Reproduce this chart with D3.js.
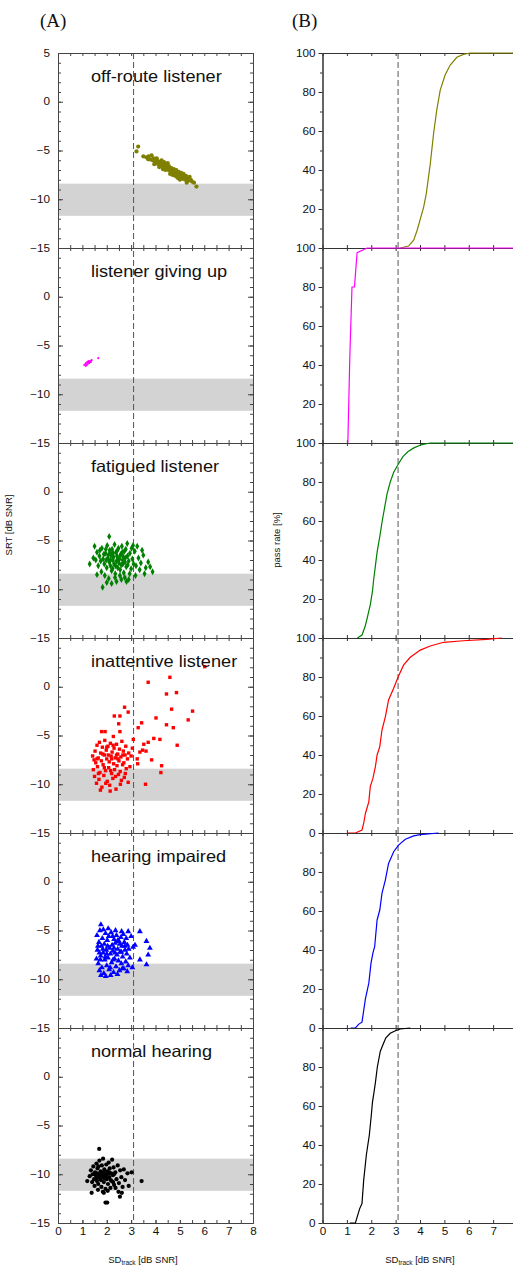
<!DOCTYPE html>
<html lang="en">
<head>
<meta charset="UTF-8">
<title>SRT vs SD track</title>
<style>
  body { margin: 0; background: #fff; }
  text { font-family: Arial, "Liberation Sans", sans-serif; }
</style>
</head>
<body>
<div id="content"></div>
<script src="https://cdn.jsdelivr.net/npm/d3@7"></script>
<script>

// ---- data ----
var panelNames = ["off-route listener", "listener giving up", "fatigued listener",
                  "inattentive listener", "hearing impaired", "normal hearing"];
var panelColors = ["#808000", "#ff00ff", "#008000", "#ff0000", "#0000ff", "#000000"];
var panelShapes = ["circle", "dot", "diamond", "square", "triangle", "circle"];

var srtTicks = [5, 0, -5, -10, -15];
var sdTicksLeft = [0, 1, 2, 3, 4, 5, 6, 7, 8];
var sdTicksRight = [0, 1, 2, 3, 4, 5, 6, 7];
var passTicks = [100, 80, 60, 40, 20, 0];
var criterionSD = 3.1;
var normBand = [-8.4, -11.7];

// [SD_track, SRT]
var offRoutePts = [
  [3.29,-4.6],[3.22,-5.1],[3.5,-5.6],[3.62,-5.7],[3.72,-5.6],[3.78,-5.9],[3.84,-5.5],[3.88,-6.0],
  [3.92,-5.8],[3.98,-6.2],[4.02,-5.9],[4.05,-6.3],[4.1,-6.1],[4.12,-6.4],[4.18,-6.2],[4.2,-6.6],
  [4.25,-6.0],[4.28,-6.4],[4.32,-6.7],[4.35,-6.2],[4.38,-6.5],[4.42,-6.8],[4.45,-6.4],[4.48,-6.7],
  [4.52,-7.0],[4.55,-6.6],[4.58,-6.9],[4.62,-7.2],[4.65,-6.8],[4.68,-7.0],[4.72,-7.3],[4.75,-6.9],
  [4.78,-7.1],[4.82,-7.4],[4.85,-7.0],[4.88,-7.3],[4.92,-7.6],[4.95,-7.2],[4.98,-7.5],[5.02,-7.8],
  [5.05,-7.3],[5.08,-7.6],[5.12,-7.9],[5.15,-7.4],[5.18,-7.7],[5.22,-8.0],[5.25,-7.6],[5.3,-7.9],
  [5.35,-8.1],[5.4,-7.7],[5.45,-8.0],[5.5,-8.2],[5.58,-8.3],[5.68,-8.7],[3.95,-6.4],[4.15,-6.7],
  [4.4,-7.0],[4.6,-7.4],[4.3,-6.9],[4.8,-7.6],[5.0,-8.0],[4.05,-5.8],[4.5,-6.3],[3.7,-5.9],
  [4.9,-7.8],[5.28,-8.3],[4.7,-7.5]
];
var givingUpPts = [
  [1.08,-7.0],[1.12,-6.9],[1.15,-6.8],[1.18,-7.0],[1.2,-6.7],[1.22,-6.9],[1.25,-6.6],[1.28,-6.8],
  [1.3,-6.7],[1.32,-6.6],[1.35,-6.7],[1.38,-6.5],[1.14,-7.1],[1.26,-6.75],[1.65,-6.3]
];
var fatiguedPts = [
  [2.1,-4.6],[1.83,-9.8],[3.88,-8.2],[3.7,-7.2],[3.25,-5.6],[3.02,-5.8],[2.81,-9.2],[2.2,-9.4],[2.4,-9.2],
  [1.6,-6.2],[1.7,-6.6],[1.75,-7.1],[1.8,-5.8],[1.85,-6.9],[1.9,-7.4],[1.95,-6.3],[2.0,-7.8],[2.02,-5.5],
  [2.05,-6.8],[2.1,-7.2],[2.12,-6.0],[2.15,-7.6],[2.18,-6.5],[2.2,-8.1],[2.22,-5.9],[2.25,-7.0],[2.28,-6.7],
  [2.3,-7.4],[2.32,-5.4],[2.35,-8.4],[2.38,-6.2],[2.4,-7.1],[2.42,-6.6],[2.45,-7.8],[2.48,-5.8],[2.5,-7.3],
  [2.52,-6.9],[2.55,-8.0],[2.58,-6.4],[2.6,-7.5],[2.62,-5.6],[2.65,-7.0],[2.68,-6.7],[2.7,-8.3],[2.72,-6.1],
  [2.75,-7.2],[2.78,-5.9],[2.8,-7.7],[2.85,-6.6],[2.9,-7.1],[2.95,-6.3],[3.0,-7.9],[3.05,-6.9],[3.1,-7.4],
  [3.15,-6.1],[3.2,-7.6],[3.3,-6.8],[3.4,-7.3],[3.5,-6.5],[3.6,-7.8],[1.55,-7.0],[1.65,-7.6],[1.72,-6.0],
  [1.78,-8.2],[1.88,-6.4],[1.92,-8.6],[1.98,-7.0],[2.08,-8.9],[2.14,-6.2],[2.24,-7.9],[2.34,-8.8],[2.44,-6.0],
  [2.54,-8.6],[2.64,-6.2],[2.74,-8.8],[2.84,-5.3],[2.94,-8.4],[3.08,-5.5],[3.18,-8.6],[3.35,-8.0],[2.26,-6.3],
  [2.36,-7.6],[2.46,-6.9],[2.56,-6.5],[2.66,-7.4],[2.16,-7.0],[2.06,-6.5],[1.96,-5.9],[2.76,-6.8],[2.86,-7.5],
  [1.3,-7.4],[1.45,-6.8],[1.5,-5.6],[3.45,-6.0],[3.55,-8.4],[3.78,-7.7],[1.6,-8.5],[2.9,-9.0],[2.0,-9.3],[2.6,-9.0]
];
var inattentivePts = [
  [6.02,2.06],[4.59,0.97],[3.70,0.46],[4.45,-0.74],[4.86,-0.6],[4.66,-2.3],[5.52,-2.5],[5.34,-3.4],
  [4.02,-3.2],[4.45,-3.9],[4.73,-4.2],[3.43,-3.7],[3.29,-4.2],[4.18,-5.4],[3.93,-5.3],[3.70,-5.7],
  [3.52,-5.9],[3.47,-6.5],[3.61,-6.6],[4.89,-6.0],[3.84,-7.5],[4.25,-8.1],[4.22,-8.8],[3.59,-10.0],
  [3.27,-7.9],[3.25,-7.4],[3.36,-6.7],[3.09,-5.4],[2.73,-2.1],[2.88,-2.6],[2.31,-3.0],[2.54,-3.0],
  [2.49,-3.8],[1.79,-4.6],[1.93,-4.6],[2.27,-5.1],[2.54,-4.6],
  [1.42,-7.1],[1.45,-8.5],[1.5,-9.2],[1.52,-6.6],[1.55,-7.8],[1.58,-9.9],[1.6,-6.0],[1.62,-8.2],
  [1.65,-7.3],[1.68,-9.5],[1.7,-5.7],[1.72,-8.8],[1.75,-6.8],[1.78,-7.6],[1.8,-10.3],[1.82,-6.2],
  [1.85,-8.0],[1.88,-9.1],[1.9,-7.0],[1.92,-5.5],[1.95,-8.6],[1.98,-6.5],[2.0,-7.4],[2.02,-9.7],
  [2.05,-6.1],[2.08,-8.3],[2.1,-7.7],[2.12,-10.1],[2.15,-5.8],[2.18,-7.1],[2.2,-8.9],[2.22,-6.7],
  [2.25,-9.4],[2.28,-7.9],[2.3,-6.3],[2.32,-8.5],[2.35,-7.3],[2.38,-10.5],[2.4,-5.9],[2.42,-8.1],
  [2.45,-6.9],[2.48,-9.0],[2.5,-7.6],[2.52,-6.4],[2.55,-8.7],[2.58,-7.2],[2.6,-9.6],[2.62,-5.6],
  [2.65,-8.0],[2.68,-6.6],[2.7,-7.8],[2.72,-9.3],[2.75,-7.0],[2.78,-6.1],[2.8,-8.4],[2.85,-7.4],
  [2.88,-9.8],[2.9,-6.8],[2.95,-8.2],[3.0,-7.1],[3.05,-6.3],[1.48,-7.5],[1.66,-8.9],[1.84,-6.9],
  [1.96,-9.9],[2.06,-7.0],[2.16,-8.6],[2.26,-6.0],[2.36,-9.2],[2.46,-7.4],[2.56,-10.0],[2.66,-7.0],
  [2.76,-8.9],[1.74,-10.6],[2.14,-10.7],[1.6,-7.4],[1.9,-8.3],[2.2,-7.4],[2.4,-7.0],[2.0,-6.2]
];
var impairedPts = [
  [1.76,-4.4],[3.36,-5.1],[3.63,-6.1],[3.77,-6.8],[3.70,-7.5],[3.63,-8.5],[3.36,-8.0],[3.16,-6.5],
  [2.88,-5.1],[2.61,-5.1],
  [1.6,-5.5],[1.62,-7.0],[1.65,-8.4],[1.68,-6.2],[1.7,-9.1],[1.72,-5.0],[1.75,-7.6],[1.78,-6.6],
  [1.8,-8.8],[1.82,-5.8],[1.85,-7.3],[1.88,-9.4],[1.9,-6.4],[1.92,-8.0],[1.95,-5.3],[1.98,-7.0],
  [2.0,-8.6],[2.02,-6.0],[2.05,-7.8],[2.08,-5.6],[2.1,-9.0],[2.12,-6.8],[2.15,-7.4],[2.18,-5.2],
  [2.2,-8.3],[2.22,-6.5],[2.25,-7.1],[2.28,-9.3],[2.3,-5.9],[2.32,-7.9],[2.35,-6.3],[2.38,-8.7],
  [2.4,-5.5],[2.42,-7.5],[2.45,-6.9],[2.48,-8.1],[2.5,-6.1],[2.52,-9.1],[2.55,-7.2],[2.58,-5.7],
  [2.6,-8.4],[2.62,-6.6],[2.65,-7.7],[2.68,-5.4],[2.7,-8.9],[2.72,-6.2],[2.75,-7.0],[2.78,-8.2],
  [2.8,-5.8],[2.82,-7.4],[2.85,-6.5],[2.88,-8.6],[2.9,-6.9],[2.95,-7.8],[3.0,-5.6],[3.05,-8.8],
  [3.08,-6.7],[1.64,-6.6],[1.74,-8.0],[1.84,-6.9],[1.94,-7.7],[2.04,-6.6],[2.14,-8.8],[2.24,-5.6],
  [2.34,-7.3],[2.44,-9.5],[2.54,-6.4],[2.64,-8.9],[2.74,-6.6],[2.84,-9.2],[1.58,-7.9],[1.76,-9.6],
  [1.96,-9.7],[2.16,-9.6],[2.36,-5.0],[2.06,-4.8],[1.86,-4.9],[2.26,-8.0],[2.46,-6.0],[1.7,-7.3],
  [2.0,-7.4],[2.3,-6.8],[2.6,-7.2]
];
var normalPts = [
  [1.69,-7.4],[3.43,-10.7],[3.02,-9.8],[1.95,-12.9],[2.02,-12.9],[1.38,-11.9],[2.54,-12.3],[1.2,-10.7],
  [1.3,-10.2],[1.35,-9.6],[1.4,-10.8],[1.45,-9.2],[1.48,-10.5],[1.5,-11.2],[1.52,-9.8],[1.55,-10.1],
  [1.58,-8.9],[1.6,-10.7],[1.62,-9.4],[1.65,-11.0],[1.68,-10.0],[1.7,-8.6],[1.72,-10.4],[1.75,-9.7],
  [1.78,-11.3],[1.8,-9.1],[1.82,-10.2],[1.85,-8.4],[1.88,-10.8],[1.9,-9.5],[1.92,-10.0],[1.95,-11.5],
  [1.98,-9.0],[2.0,-10.5],[2.02,-9.7],[2.05,-11.0],[2.08,-8.8],[2.1,-10.3],[2.12,-9.4],[2.15,-11.4],
  [2.18,-9.9],[2.2,-10.7],[2.22,-8.5],[2.25,-10.1],[2.28,-9.3],[2.3,-11.1],[2.35,-9.8],[2.4,-10.5],
  [2.45,-9.1],[2.5,-10.9],[2.55,-9.6],[2.6,-10.3],[2.65,-11.3],[2.7,-9.5],[2.75,-10.6],[2.85,-9.9],
  [2.9,-11.2],[1.42,-10.0],[1.57,-10.4],[1.66,-9.2],[1.76,-10.6],[1.86,-9.8],[1.96,-10.2],[2.06,-9.9],
  [2.16,-10.6],[2.26,-10.8],[2.36,-11.4],[1.64,-11.6],[1.84,-11.8],[2.04,-11.7],[1.5,-10.0],[1.7,-10.2],
  [1.9,-10.4],[2.1,-9.8],[1.8,-10.0],[2.0,-10.0],[1.6,-9.9],[2.3,-10.0],[2.48,-11.8],[2.62,-11.9],[1.88,-11.9]
];

// pass rate curves [SD_track, %]
var offRouteCurve = [[3.19,0],[3.53,1],[3.74,4],[3.88,9],[4.15,21],[4.26,28],[4.42,43],[4.56,59],
  [4.69,71],[4.83,81],[5.03,88.7],[5.24,93.8],[5.51,97.8],[5.78,99.3],[6.06,100],[7.9,100]];
var givingUpCurve = [[1.04,0],[1.12,44],[1.21,80],[1.31,80],[1.42,97.6],[1.66,99],[1.83,100],[7.9,100]];
var fatiguedCurve = [[1.43,0],[1.62,1.5],[1.75,6],[1.83,10],[1.96,17],[2.05,24],[2.1,30],[2.17,37],
  [2.24,44],[2.35,52],[2.45,60],[2.55,67],[2.65,74],[2.78,80],[2.92,85],[3.1,89],[3.3,93],[3.5,95.5],
  [3.75,97.5],[4.08,99.2],[4.42,100],[7.9,100]];
var inattentiveCurve = [[1.01,0],[1.35,0],[1.62,1.5],[1.69,5],[1.76,10],[1.9,16],[1.96,23.8],[2.07,28.1],
  [2.17,34],[2.24,40],[2.35,44.3],[2.44,52.8],[2.58,59.7],[2.71,68.2],[2.92,74.2],[3.12,80.5],[3.33,86.2],
  [3.6,90.1],[4.01,93.8],[4.42,95.9],[4.97,97.8],[5.78,98.6],[6.74,99.3],[7.36,100]];
var impairedCurve = [[1.15,0],[1.35,0],[1.49,2],[1.62,3],[1.76,14.9],[1.9,23],[1.99,33.3],[2.07,38.5],
  [2.14,41.7],[2.24,55.4],[2.35,60.5],[2.44,69],[2.58,76],[2.71,84.4],[2.92,90.4],[3.12,93.8],[3.4,96.8],
  [3.74,98.5],[4.01,99.2],[4.76,100]];
var normalCurve = [[1.12,0],[1.35,0],[1.42,3],[1.53,7.5],[1.62,10],[1.69,22],[1.8,35],[1.92,45],[2.0,55],
  [2.05,62],[2.1,66],[2.17,72],[2.25,80],[2.37,88],[2.5,92],[2.6,95],[2.78,97.3],[2.99,98.6],[3.19,99.5],[3.6,100]];

var scatterData = [offRoutePts, givingUpPts, fatiguedPts, inattentivePts, impairedPts, normalPts];
var curveData = [offRouteCurve, givingUpCurve, fatiguedCurve, inattentiveCurve, impairedCurve, normalCurve];

// ---- layout ----
var width = 513, height = 1267;
var top0 = 53, panelH = 195, nPanels = 6;
var axisColor = "#444";
var textColor = "#111";
var stretchTicks = 1.17;   // figure text is slightly wide
var stretchTitles = 1.1;

var svg = d3.select("#content").append("svg")
    .attr("width", width)
    .attr("height", height);

var xL = d3.scaleLinear().domain([0, 8]).range([58, 253]);
var xR = d3.scaleLinear().domain([0, 8]).range([322.5, 517.5]);

var symbolSize = { circle: 14, dot: 3.5, diamond: 14, square: 11.5, triangle: 15 };
var symbolType = { circle: d3.symbolCircle, dot: d3.symbolCircle, diamond: d3.symbolDiamond,
                   square: d3.symbolSquare, triangle: d3.symbolTriangle };

var halfTicks = d3.range(0, 8.01, 0.5);
var srtMinor = d3.range(-15, 5.01, 1);
var passMinor = [10, 30, 50, 70, 90];

var bottomAll = top0 + nPanels * panelH;

// grey norm band first (under everything)
for (var k = 0; k < nPanels; k++) {
    var yB = d3.scaleLinear().domain([5, -15]).range([top0 + k * panelH, top0 + (k + 1) * panelH]);
    svg.append("rect")
        .attr("x", xL(0))
        .attr("y", yB(normBand[0]))
        .attr("width", xL(8) - xL(0))
        .attr("height", yB(normBand[1]) - yB(normBand[0]))
        .attr("fill", "#d3d3d3");
}

// dashed criterion lines
[xL, xR].forEach(function (xs) {
    svg.append("line")
        .attr("x1", xs(criterionSD)).attr("x2", xs(criterionSD))
        .attr("y1", top0).attr("y2", bottomAll)
        .attr("stroke", "#555")
        .attr("stroke-width", 1)
        .attr("stroke-dasharray", "6,3");
});

panelNames.forEach(function (name, k) {
    var top = top0 + k * panelH, bottom = top + panelH;
    var yL = d3.scaleLinear().domain([5, -15]).range([top, bottom]);
    var yR = d3.scaleLinear().domain([0, 100]).range([bottom, top]);
    var last = (k === nPanels - 1);

    // ---- (A) scatter ----
    var gA = svg.append("g").style("color", axisColor);

    gA.append("g").attr("transform", "translate(" + xL(0) + ",0)")
        .call(d3.axisLeft(yL).tickValues(k === 0 ? srtTicks : srtTicks.slice(1))
            .tickSizeInner(-5).tickSizeOuter(0).tickPadding(8));
    gA.append("g").attr("transform", "translate(" + xL(0) + ",0)")
        .call(d3.axisLeft(yL).tickValues(srtMinor).tickSizeInner(-3).tickSizeOuter(0).tickFormat(""));
    gA.append("g").attr("transform", "translate(" + xL(8) + ",0)")
        .call(d3.axisRight(yL).tickValues(srtMinor).tickSizeInner(-3).tickSizeOuter(0).tickFormat(""));
    gA.append("g").attr("transform", "translate(" + xL(8) + ",0)")
        .call(d3.axisRight(yL).tickValues(srtTicks).tickSizeInner(-5).tickSizeOuter(0).tickFormat(""));
    gA.append("g").attr("transform", "translate(0," + top + ")")
        .call(d3.axisTop(xL).tickValues(halfTicks).tickSizeInner(-3).tickSizeOuter(0).tickFormat(""));
    gA.append("g").attr("transform", "translate(0," + bottom + ")")
        .call(d3.axisBottom(xL).tickValues(halfTicks).tickSizeInner(-3).tickSizeOuter(0).tickFormat(""));
    if (last) {
        gA.append("g").attr("transform", "translate(0," + bottom + ")")
            .call(d3.axisBottom(xL).tickValues(sdTicksLeft).tickSizeInner(-3).tickSizeOuter(0).tickPadding(5));
    }

    var sym = d3.symbol().type(symbolType[panelShapes[k]]).size(symbolSize[panelShapes[k]]);
    svg.append("g").selectAll("path")
        .data(scatterData[k])
        .enter()
        .append("path")
        .attr("d", sym)
        .attr("transform", function (d) { return "translate(" + xL(d[0]) + "," + yL(d[1]) + ")"; })
        .attr("fill", panelColors[k]);

    svg.append("text")
        .attr("class", "ptitle")
        .attr("x", xL(1.35))
        .attr("y", top + 29)
        .attr("font-size", 16.5)
        .attr("fill", textColor)
        .text(name);

    // ---- (B) pass rate ----
    var gB = svg.append("g").style("color", "#333");
    var yTicks = passTicks.filter(function (v) {
        if (k < 3) return v !== 0;
        if (k === 3) return true;
        return v !== 100;
    });
    gB.append("g").attr("transform", "translate(" + xR(0) + ",0)")
        .call(d3.axisLeft(yR).tickValues(yTicks).tickSize(4).tickSizeOuter(0).tickPadding(3));
    gB.append("g").attr("transform", "translate(" + xR(0) + ",0)")
        .call(d3.axisLeft(yR).tickValues(passMinor).tickSize(2.5).tickSizeOuter(0).tickFormat(""));
    gB.append("g").attr("transform", "translate(0," + top + ")")
        .call(d3.axisTop(xR).tickValues(sdTicksLeft).tickSizeInner(-3).tickSizeOuter(0).tickFormat(""));
    gB.append("g").attr("transform", "translate(0," + bottom + ")")
        .call(d3.axisBottom(xR).tickValues(last ? sdTicksRight : sdTicksLeft)
            .tickSizeInner(-3).tickSizeOuter(0).tickPadding(5)
            .tickFormat(last ? d3.format("d") : ""));

    var line = d3.line()
        .x(function (d) { return xR(d[0]); })
        .y(function (d) { return yR(d[1]); });

    svg.append("path")
        .datum(curveData[k])
        .attr("d", line)
        .attr("fill", "none")
        .attr("stroke", panelColors[k])
        .attr("stroke-width", 1.2);
});

// tick label styling
svg.selectAll(".tick text")
    .attr("font-size", 10)
    .attr("font-family", "Arial, 'Liberation Sans', sans-serif")
    .attr("fill", textColor);

// panel letters
svg.append("text").attr("x", 40).attr("y", 27)
    .style("font-family", "'Liberation Serif', 'Times New Roman', serif")
    .attr("font-size", 19).attr("fill", textColor).text("(A)");
svg.append("text").attr("x", 292).attr("y", 27)
    .style("font-family", "'Liberation Serif', 'Times New Roman', serif")
    .attr("font-size", 19).attr("fill", textColor).text("(B)");

// axis titles
function sdTitle(cx) {
    var t = svg.append("text")
        .attr("x", cx).attr("y", 1263)
        .attr("text-anchor", "middle")
        .attr("font-size", 9.5)
        .attr("fill", textColor);
    t.append("tspan").text("SD");
    t.append("tspan").attr("font-size", 6.5).attr("dy", 2).text("track");
    t.append("tspan").attr("dy", -2).text(" [dB SNR]");
}
sdTitle(143);
sdTitle(420);

svg.append("text")
    .attr("transform", "translate(12,525) rotate(-90)")
    .attr("text-anchor", "middle")
    .attr("font-size", 9.5)
    .attr("fill", textColor)
    .text("SRT [dB SNR]");
svg.append("text")
    .attr("transform", "translate(280,540) rotate(-90)")
    .attr("text-anchor", "middle")
    .attr("font-size", 9.5)
    .attr("fill", textColor)
    .text("pass rate [%]");

// widen the text a little, like the original figure
function stretch(sel, f) {
    sel.each(function () {
        var len = this.getComputedTextLength();
        d3.select(this).attr("textLength", len * f).attr("lengthAdjust", "spacingAndGlyphs");
    });
}
stretch(svg.selectAll(".tick text"), stretchTicks);
stretch(svg.selectAll(".ptitle"), stretchTitles);

</script>
</body>
</html>
